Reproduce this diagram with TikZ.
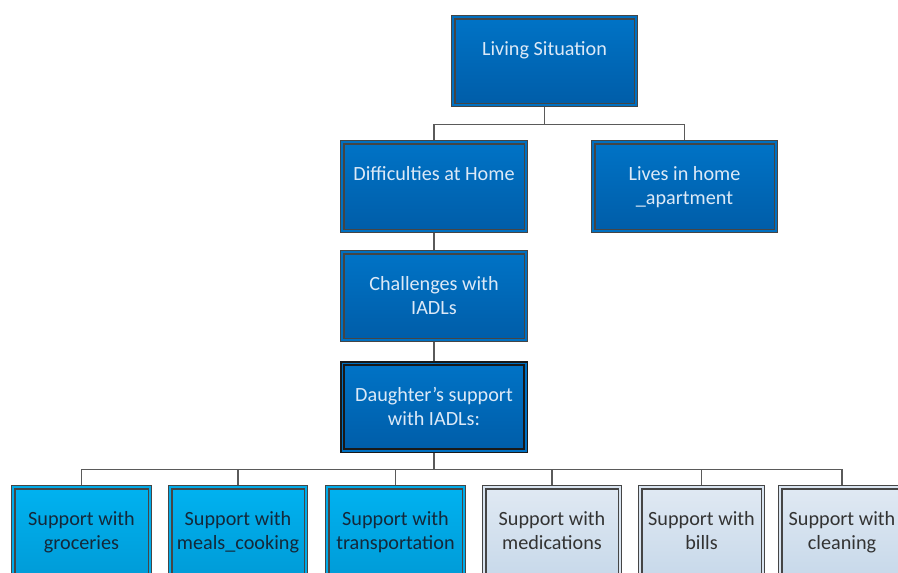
\documentclass[tikz,border=0pt]{standalone}
\usepackage{fontspec}
\setmainfont{Carlito}
\usetikzlibrary{shadows,backgrounds}

\definecolor{navytop}{HTML}{0073C6}
\definecolor{navybot}{HTML}{005DA8}
\definecolor{navytext}{HTML}{DCE9F7}
\definecolor{skytop}{HTML}{00B2F0}
\definecolor{skybot}{HTML}{009CD8}
\definecolor{skytext}{HTML}{14283A}
\definecolor{paletop}{HTML}{E0E9F3}
\definecolor{palebot}{HTML}{C8D9EA}
\definecolor{paletext}{HTML}{333333}
\definecolor{rimgray}{HTML}{454545}
\definecolor{linkgray}{HTML}{5A5A5A}

% text block of a box: fixed size, first baseline at a fixed depth
\newcommand{\orgtext}[3]{\parbox[c][#2][t]{#1}{\centering\rule{0pt}{37.7pt}#3}}

\tikzset{
  orgbox/.style={rectangle, inner sep=0pt, outer sep=0pt,
    font=\fontsize{20.2}{24.8}\selectfont,
    draw=rimgray, line width=1.2pt, double distance=2pt,
    drop shadow={shadow xshift=2.5pt, shadow yshift=-2.5pt, fill=black, opacity=0.22}},
  navybox/.style={orgbox, top color=navytop, bottom color=navybot,
    double=navytop!85!navybot, text=navytext},
  keybox/.style={navybox, draw=black!90, line width=1.7pt, double distance=1.6pt},
  skybox/.style={orgbox, top color=skytop, bottom color=skybot,
    double=skytop!70!skybot, text=skytext},
  palebox/.style={orgbox, top color=paletop, bottom color=palebot,
    double=paletop!70!palebot, text=paletext},
  link/.style={draw=linkgray, line width=1.3pt}
}

\begin{document}
\begin{tikzpicture}[x=1pt, y=-1pt]
  \useasboundingbox (0,0) rectangle (898,573);
  \clip (0,0) rectangle (898,573);

  % upper levels
  \node[navybox] (living) at (544.5,61)
    {\orgtext{182.4pt}{87.4pt}{Living Situation}};
  \node[navybox] (diff) at (434,186.5)
    {\orgtext{183.4pt}{88.4pt}{Difficulties at Home}};
  \node[navybox] (lives) at (684.5,186.5)
    {\orgtext{182.4pt}{88.4pt}{Lives in home\\\_apartment}};
  \node[navybox] (chal) at (434,296)
    {\orgtext{183.4pt}{87.4pt}{Challenges with\\IADLs}};
  \node[keybox] (daught) at (434,407)
    {\orgtext{183.4pt}{87.4pt}{Daughter’s support\\with IADLs:}};

  % support tasks
  \node[skybox] (groc) at (81.5,531)
    {\orgtext{136.4pt}{87.4pt}{Support with\\groceries}};
  \node[skybox] (meals) at (238,531)
    {\orgtext{135.4pt}{87.4pt}{Support with\\meals\_cooking}};
  \node[skybox] (trans) at (395.5,531)
    {\orgtext{136.4pt}{87.4pt}{Support with\\transportation}};
  \node[palebox] (meds) at (552,531)
    {\orgtext{135.4pt}{87.4pt}{Support with\\medications}};
  \node[palebox] (bills) at (701.5,531)
    {\orgtext{122.4pt}{87.4pt}{Support with\\bills}};
  \node[palebox] (clean) at (842,531)
    {\orgtext{123.4pt}{87.4pt}{Support with\\cleaning}};

  % connectors, kept behind the boxes
  \begin{scope}[on background layer]
    \draw[link] (living.south) -- ++(0,20) -| (diff.north);
    \draw[link] (living.south) ++(0,20) -| (lives.north);
    \draw[link] (diff.south) -- (chal.north);
    \draw[link] (chal.south) -- (daught.north);
    \foreach \t in {groc,meals,trans,meds,bills,clean}
      \draw[link] (daught.south) ++(0,18.5) -| (\t.north);
    \draw[link] (daught.south) -- ++(0,18.5);
  \end{scope}
\end{tikzpicture}
\end{document}
